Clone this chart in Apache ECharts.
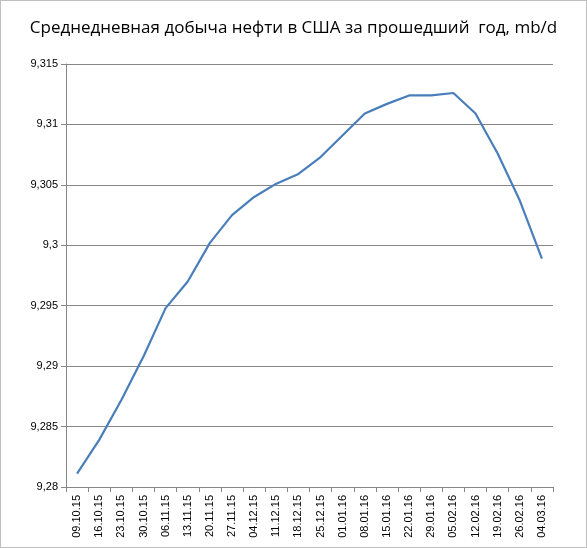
<!DOCTYPE html>
<html>
<head>
<meta charset="utf-8">
<script src="https://cdn.jsdelivr.net/npm/echarts@6/dist/echarts.min.js"></script>
<style>
html,body{margin:0;padding:0;background:#fff}
#chart{width:585px;height:546px;border:1px solid #bfbfbf}
</style>
</head>
<body>
<div id="chart"></div>
<script>
const dates = ['09.10.15','16.10.15','23.10.15','30.10.15','06.11.15','13.11.15','20.11.15','27.11.15','04.12.15','11.12.15','18.12.15','25.12.15','01.01.16','08.01.16','15.01.16','22.01.16','29.01.16','05.02.16','12.02.16','19.02.16','26.02.16','04.03.16']
const production = [9.2811,9.2839,9.2872,9.2908,9.2948,9.2970,9.3002,9.3025,9.3040,9.3051,9.3059,9.3073,9.3091,9.3109,9.3117,9.3124,9.3124,9.3126,9.3109,9.3076,9.3037,9.2989]

const chart = echarts.init(document.getElementById('chart'))
chart.setOption({
    animation: false,
    title: {
        text: 'Среднедневная добыча нефти в США за прошедший  год, mb/d',
        left: 'center', top: 14,
        textStyle: {fontFamily: 'Open Sans', fontSize: 17, fontWeight: 'normal', color: '#000'}
    },
    grid: {left: 65, right: 33, top: 63, bottom: 60},
    xAxis: {
        type: 'category',
        data: dates,
        boundaryGap: true,
        axisLine: {lineStyle: {color: '#868686'}},
        axisTick: {show: true, alignWithLabel: false, lineStyle: {color: '#868686'}},
        axisLabel: {rotate: 90, color: '#000', fontSize: 11, fontFamily: 'Liberation Sans', interval: 0}
    },
    yAxis: {
        type: 'value',
        min: 9.28, max: 9.315, interval: 0.005,
        axisLine: {show: true, lineStyle: {color: '#868686'}},
        axisTick: {show: true, lineStyle: {color: '#868686'}},
        splitLine: {lineStyle: {color: '#868686'}},
        axisLabel: {
            color: '#000', fontSize: 11, fontFamily: 'Liberation Sans',
            formatter: v => String(+v.toFixed(3)).replace('.', ',')
        }
    },
    series: [{
        type: 'line',
        data: production,
        symbol: 'none',
        lineStyle: {color: '#4a7ebb', width: 2.2}
    }]
})
</script>
</body>
</html>
